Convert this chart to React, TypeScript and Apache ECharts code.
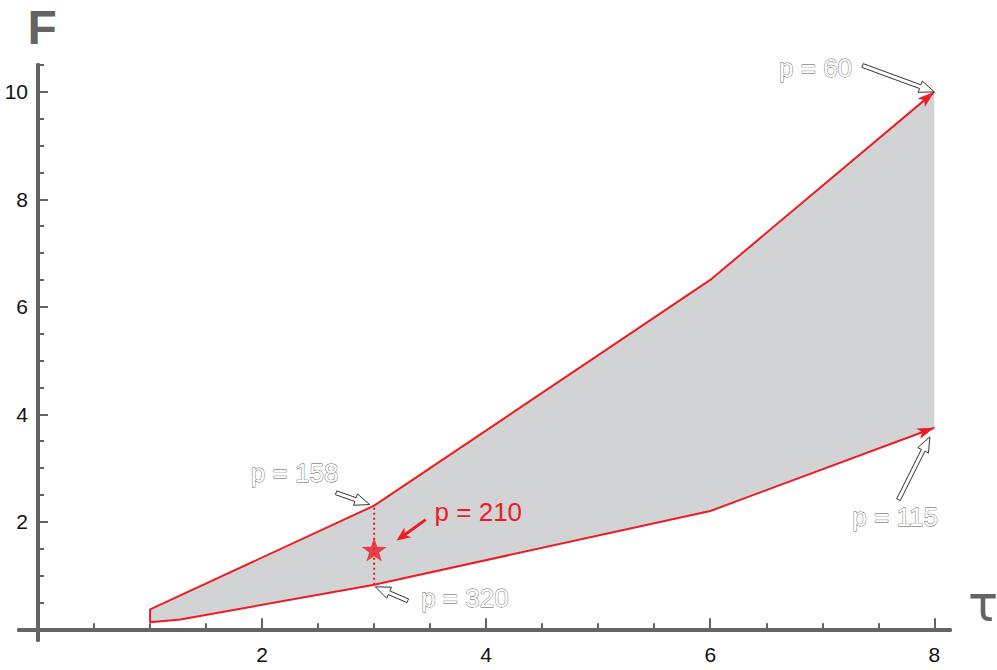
import React, { useEffect, useRef } from "react";
import * as echarts from "echarts";

// ---- data ----
const lowerTau = [1, 1.27, 3, 6, 8];
const lowerF = [0.13, 0.18, 0.83, 2.2, 3.75];
const upperTau = [1, 3, 6, 8];
const upperF = [0.37, 2.3, 6.5, 10.0];

const markTau = 3;
const markF = 1.48;
const markLabel = "p = 210";
const markTextAt = [3.93, 2.19];
const markArrowTail = [3.46, 2.04];
const markArrowHead = [3.2, 1.65];

const annoLabels = ["p = 60", "p = 115", "p = 158", "p = 320"];
const annoTextAt = [
  [6.94, 10.45],
  [7.65, 2.09],
  [2.29, 2.91],
  [3.81, 0.59],
];
const annoTail = [
  [7.36, 10.49],
  [7.68, 2.41],
  [2.66, 2.54],
  [3.3, 0.53],
];
const annoHead = [
  [8.0, 10.0],
  [7.96, 3.58],
  [2.96, 2.32],
  [3.01, 0.79],
];

const xMajorTicks = [2, 4, 6, 8];
const xMinorTicks = [0.5, 1, 1.5, 2.5, 3, 3.5, 4.5, 5, 5.5, 6.5, 7, 7.5];
const yMajorTicks = [2, 4, 6, 8, 10];
const yMinorTicks = [0.5, 1, 1.5, 2.5, 3, 3.5, 4.5, 5, 5.5, 6.5, 7, 7.5, 8.5, 9, 9.5, 10.5];

// ---- styles ----
const RED = "#ed1c24";
const AXIS = "#646464";
const FILL = "#d1d3d4";
const FONT = "'Liberation Sans', Arial, sans-serif";

type P = number[];

function arrowPolygon(t: P, h: P, sw: number, hw: number, hl: number, notch = 0): P[] {
  const dx = h[0] - t[0];
  const dy = h[1] - t[1];
  const L = Math.hypot(dx, dy) || 1;
  const ux = dx / L;
  const uy = dy / L;
  const nx = -uy;
  const ny = ux;
  const bx = h[0] - ux * hl;
  const by = h[1] - uy * hl;
  const nbx = bx + ux * notch;
  const nby = by + uy * notch;
  return [
    [t[0] + (nx * sw) / 2, t[1] + (ny * sw) / 2],
    [nbx + (nx * sw) / 2, nby + (ny * sw) / 2],
    [bx + (nx * hw) / 2, by + (ny * hw) / 2],
    [h[0], h[1]],
    [bx - (nx * hw) / 2, by - (ny * hw) / 2],
    [nbx - (nx * sw) / 2, nby - (ny * sw) / 2],
    [t[0] - (nx * sw) / 2, t[1] - (ny * sw) / 2],
  ];
}

function arrowHeadPolygon(from: P, tip: P, hw: number, hl: number, notch: number): P[] {
  const dx = tip[0] - from[0];
  const dy = tip[1] - from[1];
  const L = Math.hypot(dx, dy) || 1;
  const ux = dx / L;
  const uy = dy / L;
  const nx = -uy;
  const ny = ux;
  const bx = tip[0] - ux * hl;
  const by = tip[1] - uy * hl;
  return [
    [tip[0], tip[1]],
    [bx + (nx * hw) / 2, by + (ny * hw) / 2],
    [bx + ux * notch, by + uy * notch],
    [bx - (nx * hw) / 2, by - (ny * hw) / 2],
  ];
}

export default function App() {
  const ref = useRef<HTMLDivElement>(null);

  useEffect(() => {
    if (!ref.current) return;
    const chart = echarts.init(ref.current, undefined, { renderer: "svg" });

    const boundary: number[][] = [];
    for (let i = lowerTau.length - 1; i >= 0; i--) boundary.push([lowerTau[i], lowerF[i]]);
    for (let i = 0; i < upperTau.length; i++) boundary.push([upperTau[i], upperF[i]]);

    const upperAtMark = upperF[upperTau.indexOf(markTau)];
    const lowerAtMark = lowerF[lowerTau.indexOf(markTau)];

    const axisLineStyle = { color: AXIS, width: 4 };

    const option: any = {
      animation: false,
      grid: {
        left: 19,
        right: 47,
        top: 65,
        bottom: 30,
        containLabel: false,
        outerBoundsMode: "none",
      },
      xAxis: [
        {
          type: "value",
          min: -0.17,
          max: 8.14,
          position: "bottom",
          axisLine: { show: true, onZero: true, lineStyle: axisLineStyle },
          axisTick: {
            show: true,
            inside: true,
            length: 11,
            customValues: xMajorTicks,
            lineStyle: { color: AXIS, width: 2 },
          },
          axisLabel: {
            show: true,
            customValues: xMajorTicks,
            fontSize: 21,
            color: "#111",
            margin: 4,
            fontFamily: FONT,
          },
          splitLine: { show: false },
          name: "τ",
          nameLocation: "end",
          nameGap: 18,
          nameTextStyle: {
            fontSize: 50,
            color: AXIS,
            fontFamily: "'DejaVu Sans', sans-serif",
            verticalAlign: "bottom",
          },
        },
        {
          type: "value",
          min: -0.17,
          max: 8.14,
          position: "bottom",
          axisLine: { show: true, onZero: true, lineStyle: axisLineStyle },
          axisTick: {
            show: true,
            inside: true,
            length: 6,
            customValues: xMinorTicks,
            lineStyle: { color: AXIS, width: 2 },
          },
          axisLabel: { show: false },
          splitLine: { show: false },
        },
      ],
      yAxis: [
        {
          type: "value",
          min: -0.2,
          max: 10.5,
          position: "left",
          axisLine: { show: true, onZero: true, lineStyle: axisLineStyle },
          axisTick: {
            show: true,
            inside: true,
            length: 10,
            customValues: yMajorTicks,
            lineStyle: { color: AXIS, width: 2 },
          },
          axisLabel: {
            show: true,
            customValues: yMajorTicks,
            fontSize: 21,
            color: "#111",
            margin: -9,
            fontFamily: FONT,
          },
          splitLine: { show: false },
          name: "F",
          nameLocation: "end",
          nameGap: 14,
          nameTextStyle: {
            fontSize: 48,
            fontWeight: "bold",
            color: AXIS,
            fontFamily: FONT,
            padding: [0, 0, 0, 8],
          },
        },
        {
          type: "value",
          min: -0.2,
          max: 10.5,
          position: "left",
          axisLine: { show: true, onZero: true, lineStyle: axisLineStyle },
          axisTick: {
            show: true,
            inside: true,
            length: 6,
            customValues: yMinorTicks,
            lineStyle: { color: AXIS, width: 2 },
          },
          axisLabel: { show: false },
          splitLine: { show: false },
        },
      ],
      series: [
        {
          type: "custom",
          name: "band",
          clip: false,
          z: 1,
          data: [0],
          renderItem: (params: any, api: any) => {
            const pts: P[] = [];
            for (let i = 0; i < upperTau.length; i++) pts.push(api.coord([upperTau[i], upperF[i]]));
            for (let i = lowerTau.length - 1; i >= 0; i--) pts.push(api.coord([lowerTau[i], lowerF[i]]));
            return {
              type: "polygon",
              shape: { points: pts },
              style: { fill: FILL, stroke: "none" },
            };
          },
        },
        {
          type: "line",
          name: "boundary",
          data: boundary,
          showSymbol: false,
          symbol: "none",
          z: 3,
          lineStyle: { color: RED, width: 2 },
        },
        {
          type: "line",
          name: "dotted",
          data: [
            [markTau, lowerAtMark],
            [markTau, upperAtMark],
          ],
          showSymbol: false,
          symbol: "none",
          z: 3,
          lineStyle: { color: RED, width: 2, type: [2, 3] },
        },
        {
          type: "scatter",
          name: "star",
          data: [[markTau, markF]],
          symbol:
            "path://M0,-10 L2.35,-3.24 L9.51,-3.09 L3.8,1.24 L5.88,8.09 L0,4 L-5.88,8.09 L-3.8,1.24 L-9.51,-3.09 L-2.35,-3.24 Z",
          symbolSize: 25,
          symbolKeepAspect: true,
          z: 5,
          itemStyle: { color: RED },
        },
        {
          type: "custom",
          name: "arrows",
          clip: false,
          z: 6,
          data: [0],
          renderItem: (params: any, api: any) => {
            const children: any[] = [];
            const n = lowerTau.length;
            const m = upperTau.length;
            const ends = [
              [api.coord([lowerTau[n - 2], lowerF[n - 2]]), api.coord([lowerTau[n - 1], lowerF[n - 1]])],
              [api.coord([upperTau[m - 2], upperF[m - 2]]), api.coord([upperTau[m - 1], upperF[m - 1]])],
            ];
            ends.forEach(([a, b]) => {
              children.push({
                type: "polygon",
                shape: { points: arrowHeadPolygon(a, b, 11, 17, 4) },
                style: { fill: RED, stroke: "none" },
              });
            });
            for (let i = 0; i < annoLabels.length; i++) {
              const t = api.coord(annoTail[i]);
              const h = api.coord(annoHead[i]);
              children.push({
                type: "polygon",
                shape: { points: arrowPolygon(t, h, 4, 12, 15, 0) },
                style: { fill: "#fff", stroke: "#333", lineWidth: 1, lineJoin: "miter" },
              });
              const c = api.coord(annoTextAt[i]);
              children.push({
                type: "text",
                x: c[0],
                y: c[1],
                style: {
                  text: annoLabels[i],
                  fill: "#fff",
                  stroke: "#555",
                  lineWidth: 0.8,
                  fontSize: 26,
                  fontFamily: FONT,
                  align: "center",
                  verticalAlign: "middle",
                },
              });
            }
            const rt = api.coord(markArrowTail);
            const rh = api.coord(markArrowHead);
            children.push({
              type: "polygon",
              shape: { points: arrowPolygon(rt, rh, 3, 12, 14, 3) },
              style: { fill: RED, stroke: "none" },
            });
            const rc = api.coord(markTextAt);
            children.push({
              type: "text",
              x: rc[0],
              y: rc[1],
              style: {
                text: markLabel,
                fill: RED,
                fontSize: 26,
                fontFamily: FONT,
                align: "center",
                verticalAlign: "middle",
              },
            });
            return { type: "group", children };
          },
        },
      ],
    };

    chart.setOption(option);
    return () => chart.dispose();
  }, []);

  return (
    <div
      ref={ref}
      style={{ position: "fixed", left: 0, top: 0, width: 997, height: 670, background: "#fff" }}
    />
  );
}
